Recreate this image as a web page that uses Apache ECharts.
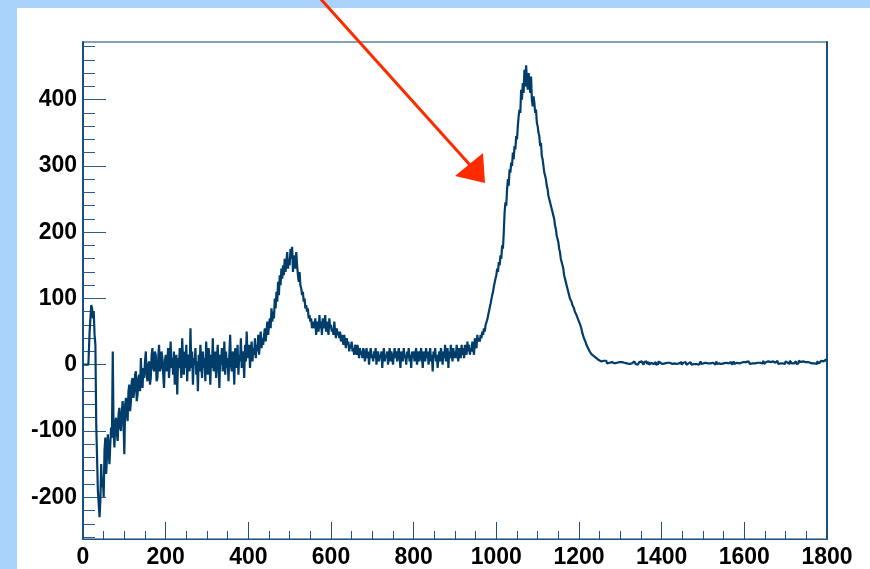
<!DOCTYPE html>
<html>
<head>
<meta charset="utf-8">
<script src="https://cdn.jsdelivr.net/npm/echarts@6/dist/echarts.min.js"></script>
<style>
  html, body { margin: 0; padding: 0; background: #a9d3fb; }
  #chart { width: 870px; height: 569px; }
</style>
</head>
<body>
<div id="chart"></div>
<script>
// Histogram contents: 2-unit bins, one array per 200-unit stretch of x.
const binWidth = 2;
const segmentStarts = [0, 200, 400, 600, 800, 1000, 1200, 1400, 1600];

const countsFrom0 = [
  0, 0, 0, 0, 0, 0, 0, 0, 50, 70,
  90, 85, 70, 80, 45, 30, -90, -140, -190, -210,
  -230, -205, -150, -185, -170, -200, -130, -110, -165, -140,
  -105, -125, -150, -120, -95, -110, 20, -100, -125, -90,
  -80, -105, -115, -75, -65, -95, -100, -70, -55, -85,
  -135, -60, -50, -75, -85, -40, -30, -70, -55, -25,
  -20, -50, -40, -15, -10, -55, -45, -20, -15, -40,
  10, -25, -35, -5, -20, 5, 20, -15, -25, 0,
  5, -30, -20, 15, 25, -5, -10, 20, 15, -25,
  -20, 10, 30, -10, -5, 20, 10, -15, -35, 5
];

const countsFrom200 = [
  15, -10, 5, 25, -20, 0, 35, -5, 10, -15,
  20, -30, 5, 15, -45, 10, -5, 25, 0, -20,
  40, 5, -15, 20, -5, 30, -25, 10, 15, -10,
  55, -5, 20, -30, 10, 0, 25, -15, 5, -40,
  15, -10, 30, 5, -20, 20, -5, 10, -25, 35,
  0, -15, 25, 10, -30, 15, -5, 40, -10, 5,
  20, -20, 10, 30, -5, -35, 15, 0, 25, -10,
  5, 35, -15, 20, -5, 10, -25, 15, 45, 0,
  -10, 20, 5, -30, 25, 10, -5, 30, -15, 15,
  5, 40, -5, 20, 10, -20, 30, 5, 50, 15
];

const countsFrom400 = [
  10, 30, -5, 20, 35, 5, 25, 15, 40, 10,
  30, 20, 45, 15, 35, 50, 25, 40, 30, 45,
  55, 35, 50, 65, 45, 60, 70, 55, 85, 65,
  80, 70, 100, 85, 110, 95, 125, 105, 135, 120,
  145, 130, 150, 135, 160, 140, 155, 170, 145, 160,
  150, 175, 160, 178, 140, 165, 155, 145, 170, 150,
  135, 125, 140, 120, 115, 105, 110, 95, 100, 85,
  90, 80, 85, 70, 75, 65, 70, 55, 60, 65,
  55, 70, 45, 65, 60, 50, 75, 55, 65, 45,
  70, 55, 60, 75, 50, 65, 55, 45, 70, 55
];

const countsFrom600 = [
  60, 50, 55, 45, 65, 50, 40, 55, 45, 50,
  40, 50, 35, 45, 40, 30, 45, 35, 25, 40,
  30, 35, 20, 30, 25, 35, 20, 25, 15, 30,
  25, 15, 30, 20, 10, 25, 15, 20, 10, 25,
  20, 5, 15, 25, 10, 20, 0, 15, 25, 10,
  15, 5, 20, 10, 25, 0, 15, 20, 5, 15,
  10, 20, -5, 15, 25, 5, 15, 10, 20, 0,
  15, 25, 5, 20, 10, 0, 15, 25, 10, 20,
  5, 15, 25, 10, -5, 20, 15, 5, 25, 10,
  15, 0, 20, 10, 25, 5, 15, -5, 20, 10
];

const countsFrom800 = [
  20, 5, 15, 25, 0, 10, 20, 5, 15, 25,
  10, -5, 20, 15, 5, 25, 10, 20, 0, 15,
  25, 5, 15, -10, 20, 10, 25, 5, 15, -5,
  10, 20, 5, 25, 15, 0, 20, 10, 30, 5,
  15, 25, -5, 20, 10, 30, 15, 5, 25, 10,
  20, 10, 30, 15, 5, 25, 20, 10, 30, 15,
  25, 10, 30, 20, 15, 35, 20, 30, 15, 25,
  20, 35, 25, 15, 40, 30, 25, 45, 35, 40,
  35, 45, 40, 50, 45, 55, 50, 60, 58, 68,
  70, 80, 78, 92, 90, 105, 110, 118, 120, 130
];

const countsFrom1000 = [
  135, 145, 140, 155, 150, 165, 160, 180, 175, 200,
  230, 245, 240, 265, 280, 270, 295, 290, 305, 300,
  320, 310, 330, 325, 345, 340, 360, 375, 385, 380,
  415, 400, 425, 410, 445, 420, 452, 430, 415, 440,
  430, 410, 435, 400, 390, 405, 395, 380, 385, 365,
  360, 350, 345, 330, 335, 315, 310, 300, 290, 285,
  280, 270, 265, 255, 250, 245, 240, 235, 230, 225,
  220, 210, 205, 195, 190, 185, 175, 170, 160, 155,
  150, 145, 135, 130, 125, 120, 115, 110, 105, 100,
  100, 95, 90, 88, 85, 80, 78, 75, 72, 68
];

const countsFrom1200 = [
  66, 62, 58, 54, 48, 45, 40, 38, 34, 30,
  28, 25, 22, 20, 18, 16, 15, 13, 12, 10,
  10, 8, 9, 7, 6, 8, 5, 7, 4, 6,
  5, 3, 6, 4, 2, 5, 3, 4, 1, 4,
  3, 5, 2, 4, 1, 3, 5, 2, 4, 3,
  2, 4, 1, 5, 3, 0, 4, 2, 3, 5,
  1, 3, 4, 2, 0, 3, 5, 2, 1, 4,
  3, 0, 2, 4, 1, 5, 2, 3, 0, 4,
  2, 5, 1, 3, 4, 0, 2, 3, 5, 1,
  3, 2, 4, 0, 3, 1, 5, 2, 3, 4
];

const countsFrom1400 = [
  1, 3, 0, 2, 4, 1, 3, 2, 0, 3,
  2, 4, 1, 0, 3, 2, 5, 1, 3, 0,
  2, 3, 1, 4, 0, 2, 3, 1, 2, 4,
  0, 3, 2, 1, 4, 2, 0, 3, 1, 2,
  3, 1, 4, 2, 0, 3, 2, 5, 1, 3,
  2, 0, 3, 1, 4, 2, 3, 0, 2, 4,
  1, 3, 2, 4, 0, 2, 5, 1, 3, 2,
  4, 1, 3, 0, 2, 4, 1, 3, 2, 5,
  2, 3, 1, 4, 2, 0, 3, 5, 1, 3,
  3, 1, 4, 2, 5, 2, 3, 1, 4, 2
];

const countsFrom1600 = [
  2, 4, 1, 3, 5, 2, 3, 1, 4, 2,
  3, 5, 2, 4, 1, 3, 2, 5, 3, 1,
  4, 2, 3, 6, 1, 3, 4, 2, 5, 3,
  2, 4, 3, 1, 5, 2, 4, 3, 2, 6,
  3, 1, 4, 2, 5, 3, 2, 4, 1, 3,
  5, 2, 3, 4, 1, 6, 3, 2, 4, 3,
  2, 4, 5, 1, 3, 2, 6, 3, 4, 2,
  3, 5, 2, 4, 3, 1, 4, 6, 2, 3,
  4, 2, 3, 5, 2, 4, 3, 1, 5, 3,
  2, 4, 3, 6, 3, 5, 2, 4, 8, 5
];

// Axis ranges and tick positions
const xRange = [0, 1800];
const yRange = [-263, 487];
const yMajorTicks = [-200, -100, 0, 100, 200, 300, 400];
const yMinorTicks = [];
for (let v = -260; v <= 480; v += 20) yMinorTicks.push(v);

const segments = [countsFrom0, countsFrom200, countsFrom400, countsFrom600, countsFrom800,
  countsFrom1000, countsFrom1200, countsFrom1400, countsFrom1600];
const points = [];
segments.forEach((arr, s) => {
  arr.forEach((v, i) => {
    points.push([segmentStarts[s] + i * binWidth + binWidth / 2, v]);
  });
});

const axisColor = '#1f5282';
const labelStyle = {
  fontSize: 23,
  fontWeight: 'bold',
  color: '#000',
  fontFamily: '"Liberation Sans", Arial, sans-serif',
  formatter: (v) => String(v)
};

const chart = echarts.init(document.getElementById('chart'), null, { renderer: 'canvas' });
chart.setOption({
  animation: false,
  backgroundColor: '#a9d3fb',
  grid: {
    left: 83, top: 42, right: 43, bottom: 25,
    show: true, borderColor: '#5b82a3', borderWidth: 1.3,
    backgroundColor: 'transparent'
  },
  xAxis: [{
    type: 'value', min: xRange[0], max: xRange[1], interval: 200,
    position: 'bottom',
    axisLine: { show: true, onZero: false, lineStyle: { color: axisColor, width: 1 } },
    axisTick: { show: true, inside: true, length: 17, lineStyle: { color: axisColor, width: 1 } },
    minorTick: { show: true, splitNumber: 4, length: 8, lineStyle: { color: axisColor, width: 1 } },
    splitLine: { show: false },
    minorSplitLine: { show: false },
    axisLabel: Object.assign({ margin: 7 }, labelStyle)
  }],
  yAxis: [{
    type: 'value', min: yRange[0], max: yRange[1], position: 'left',
    axisLine: { show: true, onZero: false, lineStyle: { color: '#1a4d7c', width: 2 } },
    axisTick: { show: true, inside: true, length: 23, customValues: yMajorTicks,
      lineStyle: { color: '#2a5c88', width: 1 } },
    axisLabel: Object.assign({ margin: 6, customValues: yMajorTicks }, labelStyle),
    splitLine: { show: false }
  }, {
    type: 'value', min: yRange[0], max: yRange[1], position: 'left',
    axisLine: { show: false },
    axisTick: { show: true, inside: true, length: 12, customValues: yMinorTicks,
      lineStyle: { color: '#2a5c88', width: 1 } },
    axisLabel: { show: false },
    splitLine: { show: false }
  }, {
    type: 'value', min: yRange[0], max: yRange[1], position: 'right',
    axisLine: { show: true, onZero: false, lineStyle: { color: '#1a4d7c', width: 2 } },
    axisTick: { show: false },
    axisLabel: { show: false },
    splitLine: { show: false }
  }],
  series: [{
    type: 'line',
    xAxisIndex: 0,
    yAxisIndex: 0,
    data: points,
    step: 'middle',
    symbol: 'none',
    showSymbol: false,
    clip: true,
    lineStyle: { color: '#003d6b', width: 2.2 }
  }],
  graphic: [{
    type: 'rect',
    z: -100,
    shape: { x: 17, y: 8, width: 853, height: 561 },
    style: { fill: '#ffffff' }
  }, {
    type: 'line',
    z: 100,
    shape: { x1: 318, y1: -4, x2: 470, y2: 165 },
    style: { stroke: '#ff2a00', lineWidth: 3 }
  }, {
    type: 'polygon',
    z: 100,
    shape: { points: [[455, 176], [483, 153], [485, 183]] },
    style: { fill: '#ff2a00' }
  }]
});
</script>
</body>
</html>
